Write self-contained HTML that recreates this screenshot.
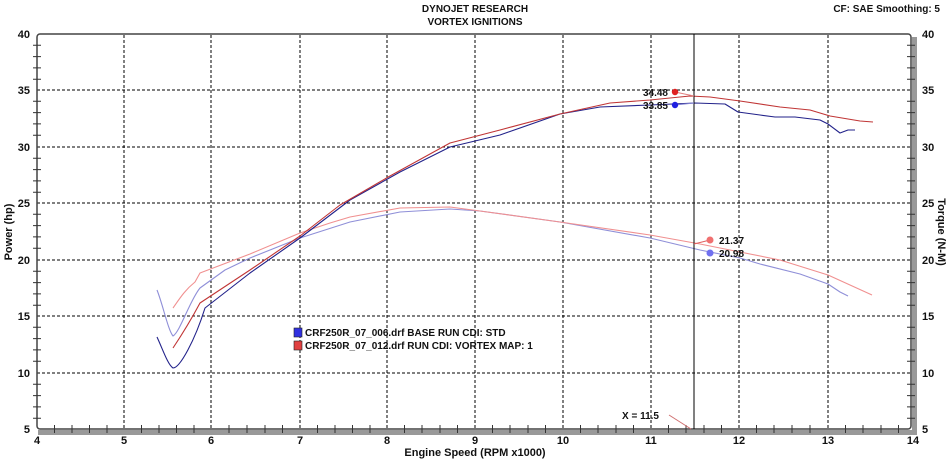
<!DOCTYPE html>
<html><head><style>
body{margin:0;background:#fff}
svg{display:block;font-family:"Liberation Sans",sans-serif;font-weight:bold}
</style></head><body>
<svg width="950" height="459" viewBox="0 0 950 459" xmlns="http://www.w3.org/2000/svg">
<rect width="950" height="459" fill="#fff"/>
<text x="475" y="12" font-size="10" text-anchor="middle" fill="#111">DYNOJET RESEARCH</text>
<text x="475" y="25" font-size="10" text-anchor="middle" fill="#111">VORTEX IGNITIONS</text>
<text x="940" y="12" font-size="10" text-anchor="end" fill="#111">CF: SAE  Smoothing: 5</text>
<rect x="38" y="430" width="878" height="5" fill="#999"/>
<rect x="912" y="37" width="5" height="398" fill="#999"/>
<g stroke="#000" stroke-width="1" stroke-dasharray="3,2">
<line x1="124" y1="35" x2="124" y2="429"/><line x1="211" y1="35" x2="211" y2="429"/>
<line x1="300" y1="35" x2="300" y2="429"/><line x1="387" y1="35" x2="387" y2="429"/>
<line x1="475" y1="35" x2="475" y2="429"/><line x1="563" y1="35" x2="563" y2="429"/>
<line x1="651" y1="35" x2="651" y2="429"/><line x1="739" y1="35" x2="739" y2="429"/>
<line x1="828" y1="35" x2="828" y2="429"/>
<line x1="37" y1="90" x2="910" y2="90"/><line x1="37" y1="147" x2="910" y2="147"/>
<line x1="37" y1="203" x2="910" y2="203"/><line x1="37" y1="260" x2="910" y2="260"/>
<line x1="37" y1="316" x2="910" y2="316"/><line x1="37" y1="373" x2="910" y2="373"/>
</g>
<rect x="37" y="34" width="874" height="395" fill="none" stroke="#444" stroke-width="1.5" rx="3"/>
<g stroke="#333" stroke-width="1">
<path d="M33 45.3h8M33 56.6h8M33 67.9h8M33 79.2h8M33 101.3h8M33 112.6h8M33 123.9h8M33 135.2h8M33 158.3h8M33 169.6h8M33 180.9h8M33 192.2h8M33 214.3h8M33 225.6h8M33 236.9h8M33 248.2h8M33 271.3h8M33 282.6h8M33 293.9h8M33 305.2h8M33 327.3h8M33 338.6h8M33 349.9h8M33 361.2h8M33 384.3h8M33 395.6h8M33 406.9h8M33 418.2h8"/>
<path d="M907 45.3h8M907 56.6h8M907 67.9h8M907 79.2h8M907 101.3h8M907 112.6h8M907 123.9h8M907 135.2h8M907 158.3h8M907 169.6h8M907 180.9h8M907 192.2h8M907 214.3h8M907 225.6h8M907 236.9h8M907 248.2h8M907 271.3h8M907 282.6h8M907 293.9h8M907 305.2h8M907 327.3h8M907 338.6h8M907 349.9h8M907 361.2h8M907 384.3h8M907 395.6h8M907 406.9h8M907 418.2h8"/>
<path d="M54.5 425v8M72 425v8M89.5 425v8M107 425v8M141.5 425v8M159 425v8M176.5 425v8M194 425v8M229 425v8M247 425v8M265 425v8M282.5 425v8M317.5 425v8M335 425v8M352.5 425v8M370 425v8M404.5 425v8M422 425v8M440 425v8M457.5 425v8M492.5 425v8M510 425v8M528 425v8M545.5 425v8M580.5 425v8M598 425v8M616 425v8M633.5 425v8M668.5 425v8M686 425v8M704 425v8M721.5 425v8M756.5 425v8M774 425v8M792 425v8M810 425v8M845.5 425v8M863 425v8M881 425v8M898.5 425v8"/>
</g>
<g font-size="11" fill="#111">
<g text-anchor="end">
<text x="30" y="38">40</text><text x="30" y="94">35</text><text x="30" y="151">30</text><text x="30" y="207">25</text><text x="30" y="264">20</text><text x="30" y="320">15</text><text x="30" y="377">10</text><text x="30" y="433">5</text>
</g>
<text x="922" y="38">40</text><text x="922" y="94">35</text><text x="922" y="151">30</text><text x="922" y="207">25</text><text x="922" y="264">20</text><text x="922" y="320">15</text><text x="922" y="377">10</text><text x="922" y="433">5</text>
<g text-anchor="middle">
<text x="37" y="444">4</text><text x="124" y="444">5</text><text x="211" y="444">6</text><text x="300" y="444">7</text><text x="387" y="444">8</text><text x="475" y="444">9</text><text x="563" y="444">10</text><text x="651" y="444">11</text><text x="739" y="444">12</text><text x="828" y="444">13</text><text x="913" y="444">14</text>
</g>
<text x="475" y="456" text-anchor="middle">Engine Speed (RPM x1000)</text>
<text transform="translate(12,232) rotate(-90)" text-anchor="middle">Power (hp)</text>
<text transform="translate(938,232) rotate(90)" text-anchor="middle">Torque (N-M)</text>
</g>
<g fill="none" stroke-width="1.1" stroke-linejoin="round">
<path stroke="#8f8fd8" d="M157 290 C163 305 168 330 173 336 C180 332 190 300 200 288 L225 270 L250 258 L300 238 L350 222 L400 212 L450 209 L480 211 L560 222 L650 238 L700 250 L740 258 L760 264 L800 274 L828 284 L840 292 L848 296"/>
<path stroke="#f09090" d="M173 308 C180 298 185 290 195 282 L200 273 L250 254 L300 233 L330 223 L350 217 L400 208 L450 207 L480 211 L560 222 L650 235 L700 244 L740 252 L780 260 L828 275 L872 295"/>
<path stroke="#22228a" d="M157 337 C163 350 168 365 173 368 C180 368 195 340 205 308 L250 273 L300 238 L350 200 L400 172 L450 147 L500 135 L560 114 L600 107 L650 105 L695 103 L725 104 L738 112 L760 115 L775 117 L795 117 L820 120 L828 124 L840 133 L848 130 L855 130"/>
<path stroke="#c03535" d="M173 348 C185 330 192 318 200 303 L250 270 L300 236 L340 205 L390 176 L450 143 L500 130 L560 114 L610 103 L650 100 L690 96 L710 97 L740 101 L780 107 L810 110 L830 116 L860 121 L873 122"/>
</g>
<line x1="694" y1="34" x2="694" y2="429" stroke="#000" stroke-width="1"/>
<line x1="669" y1="415" x2="691" y2="429" stroke="#d07070" stroke-width="1"/>
<text x="622" y="419" font-size="10" fill="#111">X = 11.5</text>
<line x1="675" y1="92" x2="694" y2="96" stroke="#e08080"/>
<line x1="675" y1="105" x2="694" y2="103" stroke="#8080d0"/>
<line x1="710" y1="240" x2="694" y2="244" stroke="#e06060"/>
<circle cx="675" cy="92" r="3.2" fill="#e02020"/>
<circle cx="675" cy="105" r="3.2" fill="#2020e0"/>
<circle cx="710" cy="240" r="3.5" fill="#f07070"/>
<circle cx="710" cy="253" r="3.5" fill="#7070f0"/>
<g font-size="10" fill="#111">
<text x="668" y="96" text-anchor="end">34.48</text>
<text x="668" y="109" text-anchor="end">33.85</text>
<text x="719" y="244">21.37</text>
<text x="719" y="257">20.98</text>
</g>
<rect x="294" y="328" width="8" height="9" fill="#3030e0" stroke="#222" stroke-width="0.6"/>
<rect x="294" y="341" width="8" height="9" fill="#e04040" stroke="#222" stroke-width="0.6"/>
<g font-size="10" fill="#111">
<text x="305" y="336">CRF250R_07_006.drf BASE RUN CDI: STD</text>
<text x="305" y="349">CRF250R_07_012.drf RUN CDI: VORTEX MAP: 1</text>
</g>
</svg>
</body></html>
